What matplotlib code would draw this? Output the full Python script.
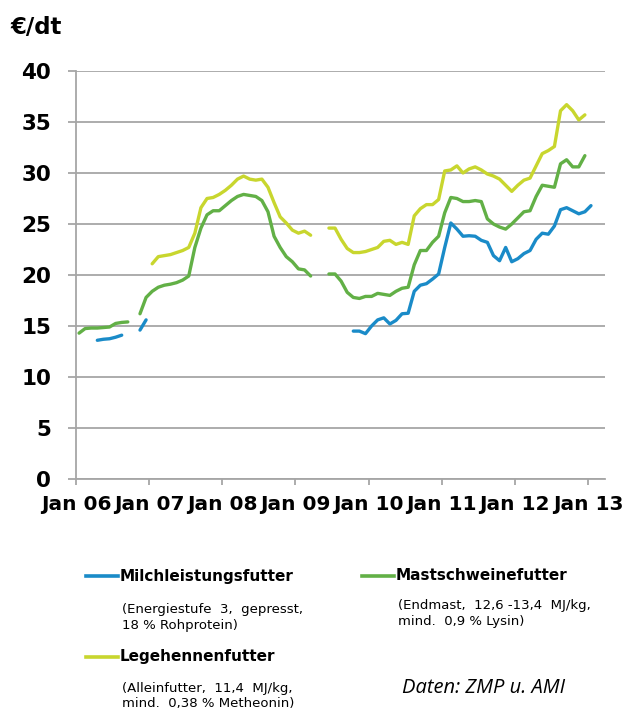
import numpy as np
import matplotlib
matplotlib.use("Agg")
from matplotlib import pyplot as plt
from matplotlib.lines import Line2D

# monthly prices in EUR/dt, Jan 06 (index 0) .. Jan 13 (index 84), None = no data
milch = [None, None, None, 13.6, 13.7, 13.75, 13.9, 14.1, None, None, 14.6, 15.6] \
    + [None] * 33 \
    + [14.5, 14.5, 14.25, 15.0, 15.6, 15.8, 15.2, 15.55, 16.2, 16.25,
       18.4, 19.0, 19.15, 19.6, 20.1, 22.7, 25.1, 24.5, 23.8, 23.85,
       23.8, 23.4, 23.2, 21.9, 21.4, 22.7, 21.3, 21.6, 22.1, 22.4,
       23.5, 24.1, 24.0, 24.8, 26.4, 26.6, 26.3, 26.0, 26.2, 26.8]

mast = [14.3, 14.75, 14.8, 14.8, 14.85, 14.9, 15.25, 15.35, 15.4, None,
        16.2, 17.8, 18.4, 18.8, 19.0, 19.1, 19.25, 19.5, 19.9, 22.7,
        24.6, 25.9, 26.3, 26.3, 26.8, 27.3, 27.7, 27.9, 27.8, 27.7,
        27.3, 26.2, 23.8, 22.7, 21.8, 21.3, 20.6, 20.5, 19.9, None,
        None, 20.1, 20.1, 19.4, 18.3, 17.8, 17.7, 17.9, 17.9, 18.2,
        18.1, 18.0, 18.4, 18.7, 18.8, 21.0, 22.4, 22.4, 23.2, 23.8,
        26.1, 27.6, 27.5, 27.2, 27.2, 27.3, 27.2, 25.5, 25.0, 24.7,
        24.5, 25.0, 25.6, 26.2, 26.3, 27.7, 28.8, 28.7, 28.6, 30.9,
        31.3, 30.6, 30.6, 31.7, None]

lege = [None] * 12 \
    + [21.1, 21.8, 21.9, 22.0, 22.2, 22.4, 22.7, 24.1,
       26.6, 27.5, 27.6, 27.9, 28.3, 28.8, 29.4, 29.7, 29.4, 29.3,
       29.4, 28.6, 27.1, 25.7, 25.1, 24.4, 24.1, 24.3, 23.9, None,
       None, 24.6, 24.6, 23.5, 22.6, 22.2, 22.2, 22.3, 22.5, 22.7,
       23.3, 23.4, 23.0, 23.2, 23.0, 25.8, 26.5, 26.9, 26.9, 27.4,
       30.2, 30.3, 30.7, 30.0, 30.4, 30.6, 30.3, 29.9, 29.7, 29.4,
       28.8, 28.2, 28.8, 29.3, 29.5, 30.7, 31.9, 32.2, 32.6, 36.1,
       36.7, 36.1, 35.2, 35.7, None]

year_labels = ["Jan 06", "Jan 07", "Jan 08", "Jan 09", "Jan 10", "Jan 11", "Jan 12", "Jan 13"]

names = ["Milchleistungsfutter", "Mastschweinefutter", "Legehennenfutter"]
notes = ["(Energiestufe  3,  gepresst,\n18 % Rohprotein)",
         "(Endmast,  12,6 -13,4  MJ/kg,\nmind.  0,9 % Lysin)",
         "(Alleinfutter,  11,4  MJ/kg,\nmind.  0,38 % Metheonin)"]
colors = ["#1a8bc8", "#62b046", "#c8d62e"]

W, H = 628, 709
GRID = "#a6a6a6"


def fx(px):
    return px / W


def fy(py):
    return 1 - py / H


fig = plt.figure(figsize=(W / 100, H / 100), dpi=100)
ax = fig.add_axes([fx(76), fy(479), fx(605) - fx(76), fy(71) - fy(479)])

x = np.arange(85) + 0.5
for vals, c in zip([milch, mast, lege], colors):
    ax.plot(x, np.array(vals, dtype=float), color=c, lw=2.4,
            solid_joinstyle="round", solid_capstyle="round")

ax.set_xlim(0, 86.8)
ax.set_ylim(0, 40)
ax.set_yticks(range(0, 41, 5))
ax.set_xticks(range(0, 85, 12))
ax.set_xticklabels(year_labels)
ax.yaxis.grid(True, color=GRID, lw=1.3)
ax.set_axisbelow(True)
for s in ["top", "right"]:
    ax.spines[s].set_visible(False)
for s in ["left", "bottom"]:
    ax.spines[s].set_color(GRID)
    ax.spines[s].set_linewidth(1.3)
ax.tick_params(axis="y", length=5.8, width=1.3, color=GRID, pad=12, labelsize=15.5)
ax.tick_params(axis="x", length=4.3, width=1.3, color=GRID, pad=7, labelsize=14.5)
for t in ax.get_xticklabels() + ax.get_yticklabels():
    t.set_fontweight("bold")

fig.text(fx(10), fy(27), "€/dt", fontsize=16.5, fontweight="bold", va="center", ha="left")

# legend drawn by hand
legend_pos = [(86, 576, 603), (362, 576, 599), (86, 657, 682)]
for (lx, ly, ny), name, note, c in zip(legend_pos, names, notes, colors):
    fig.add_artist(Line2D([fx(lx), fx(lx + 32)], [fy(ly), fy(ly)], color=c, lw=2.6))
    fig.text(fx(lx + 34), fy(ly), name, fontsize=11, fontweight="bold", va="center", ha="left")
    fig.text(fx(lx + 36), fy(ny), note, fontsize=9.5, va="top", ha="left", linespacing=1.25)

fig.text(fx(402), fy(688), "Daten: ZMP u. AMI", fontsize=14.5, style="italic",
         family="Open Sans", va="center", ha="left")

fig.savefig("out.png", dpi=100)
